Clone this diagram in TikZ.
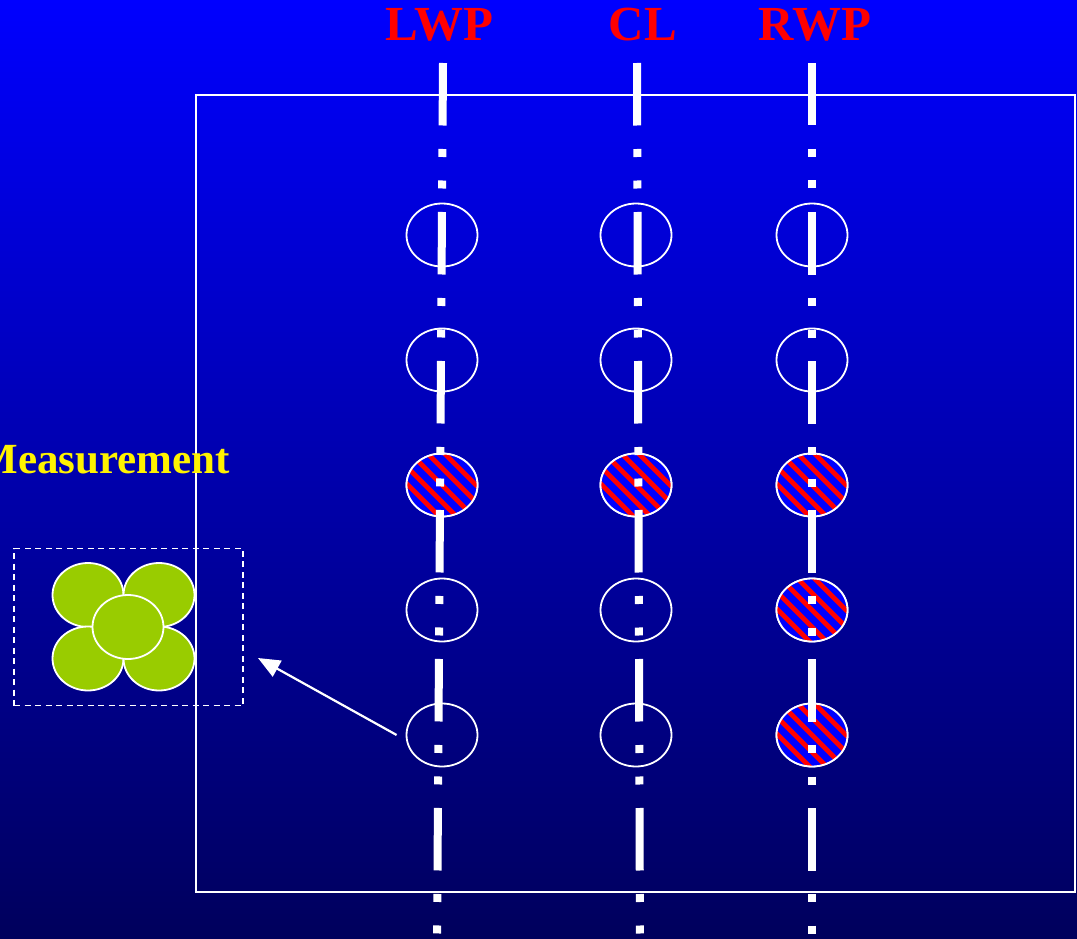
\documentclass[tikz,border=0pt]{standalone}
\usepackage{fontspec}
\setmainfont{Liberation Serif}
\usetikzlibrary{shapes.geometric,arrows.meta,calc}
\definecolor{topblue}{RGB}{0,0,255}
\definecolor{bottomblue}{RGB}{0,0,92}
\definecolor{leafgreen}{RGB}{153,204,0}
\definecolor{hatchblue}{RGB}{0,0,255}
\definecolor{hatchred}{RGB}{255,0,0}

\begin{document}
\begin{tikzpicture}[x=1pt,y=-1pt,
  ring/.style={ellipse, draw=white, line width=1.8pt, minimum width=71pt,
    minimum height=63pt, inner sep=0pt},
  leaf/.style={ellipse, fill=leafgreen, draw=white, line width=1.8pt,
    minimum width=71pt, minimum height=64pt, inner sep=0pt},
  axisline/.style={white, line width=8pt,
    dash pattern=on 62.5pt off 23.5pt on 8pt off 23.5pt on 8pt off 23.5pt},
  stripe/.style={hatchred, line width=4.8pt},
  collabel/.style={text=red, font=\bfseries\fontsize{49}{49}\selectfont,
    inner sep=0pt, anchor=base},
  measlabel/.style={text=yellow, font=\bfseries\fontsize{43}{43}\selectfont,
    inner sep=0pt, anchor=base east},
  frame/.style={draw=white, line width=1.5pt, inner sep=0pt},
  probebox/.style={draw=white, line width=1.6pt, dash pattern=on 6pt off 4.5pt,
    inner sep=0pt},
  pointer/.style={white, line width=2.2pt, -{Triangle[length=22pt,width=18pt]}}
]
\useasboundingbox (0,0) rectangle (1077,939);
\clip (0,0) rectangle (1077,939);

% background
\shade[top color=topblue, bottom color=bottomblue] (0,0) rectangle (1077,939);

% field outline
\node[frame, minimum width=879pt, minimum height=797pt] (field) at (635.5,493.5) {};

% sampling rings: columns LWP, CL, RWP; five rows
\foreach \c/\x in {1/442,2/636,3/812}{
  \foreach \r/\y in {1/235,2/360,3/485,4/610,5/735}{
    \node[ring] (e-\c-\r) at (\x,\y) {};
  }
}

% hatched rings
\foreach \n in {e-1-3,e-2-3,e-3-3,e-3-4,e-3-5}{
  \begin{scope}
    \clip (\n.center) ellipse [x radius=35.5, y radius=31.5];
    \fill[hatchblue] (\n.center) ellipse [x radius=36, y radius=32];
    \foreach \d in {-119,-102,...,119}{
      \draw[stripe] ($(\n.center)+(\d-50,-50)$) -- ++(100,100);
    }
  \end{scope}
  \draw[white, line width=1.8pt] (\n.center) ellipse [x radius=35.5, y radius=31.5];
}

% wheel-path and centre-line axes
\coordinate (lwpTop) at (443,63);
\coordinate (lwpBot) at (437,945);
\coordinate (clTop) at (637,63);
\coordinate (clBot) at (640,945);
\coordinate (rwpTop) at (812,63);
\coordinate (rwpBot) at (812,945);
\draw[axisline] (lwpTop) -- (lwpBot);
\draw[axisline] (clTop) -- (clBot);
\draw[axisline] (rwpTop) -- (rwpBot);

% column labels
\node[collabel] (lwp) at (439.5,41) {LWP};
\node[collabel] (cl) at (643,41) {CL};
\node[collabel] (rwp) at (815,41) {RWP};

% measurement group
\node[measlabel] (meas) at (230,473) {Measurement};
\node[probebox, minimum width=229pt, minimum height=157pt] (probe) at (128.5,627) {};
\node[leaf] (p1) at (88,595) {};
\node[leaf] (p2) at (159,595) {};
\node[leaf] (p3) at (88,658.5) {};
\node[leaf] (p4) at (159,658.5) {};
\node[leaf] (p5) at (128,627) {};

% arrow from the ring to the measurement layout
\coordinate (tip) at (258,658);
\draw[pointer] ([xshift=-9pt]e-1-5.west) -- (tip);
\end{tikzpicture}
\end{document}
